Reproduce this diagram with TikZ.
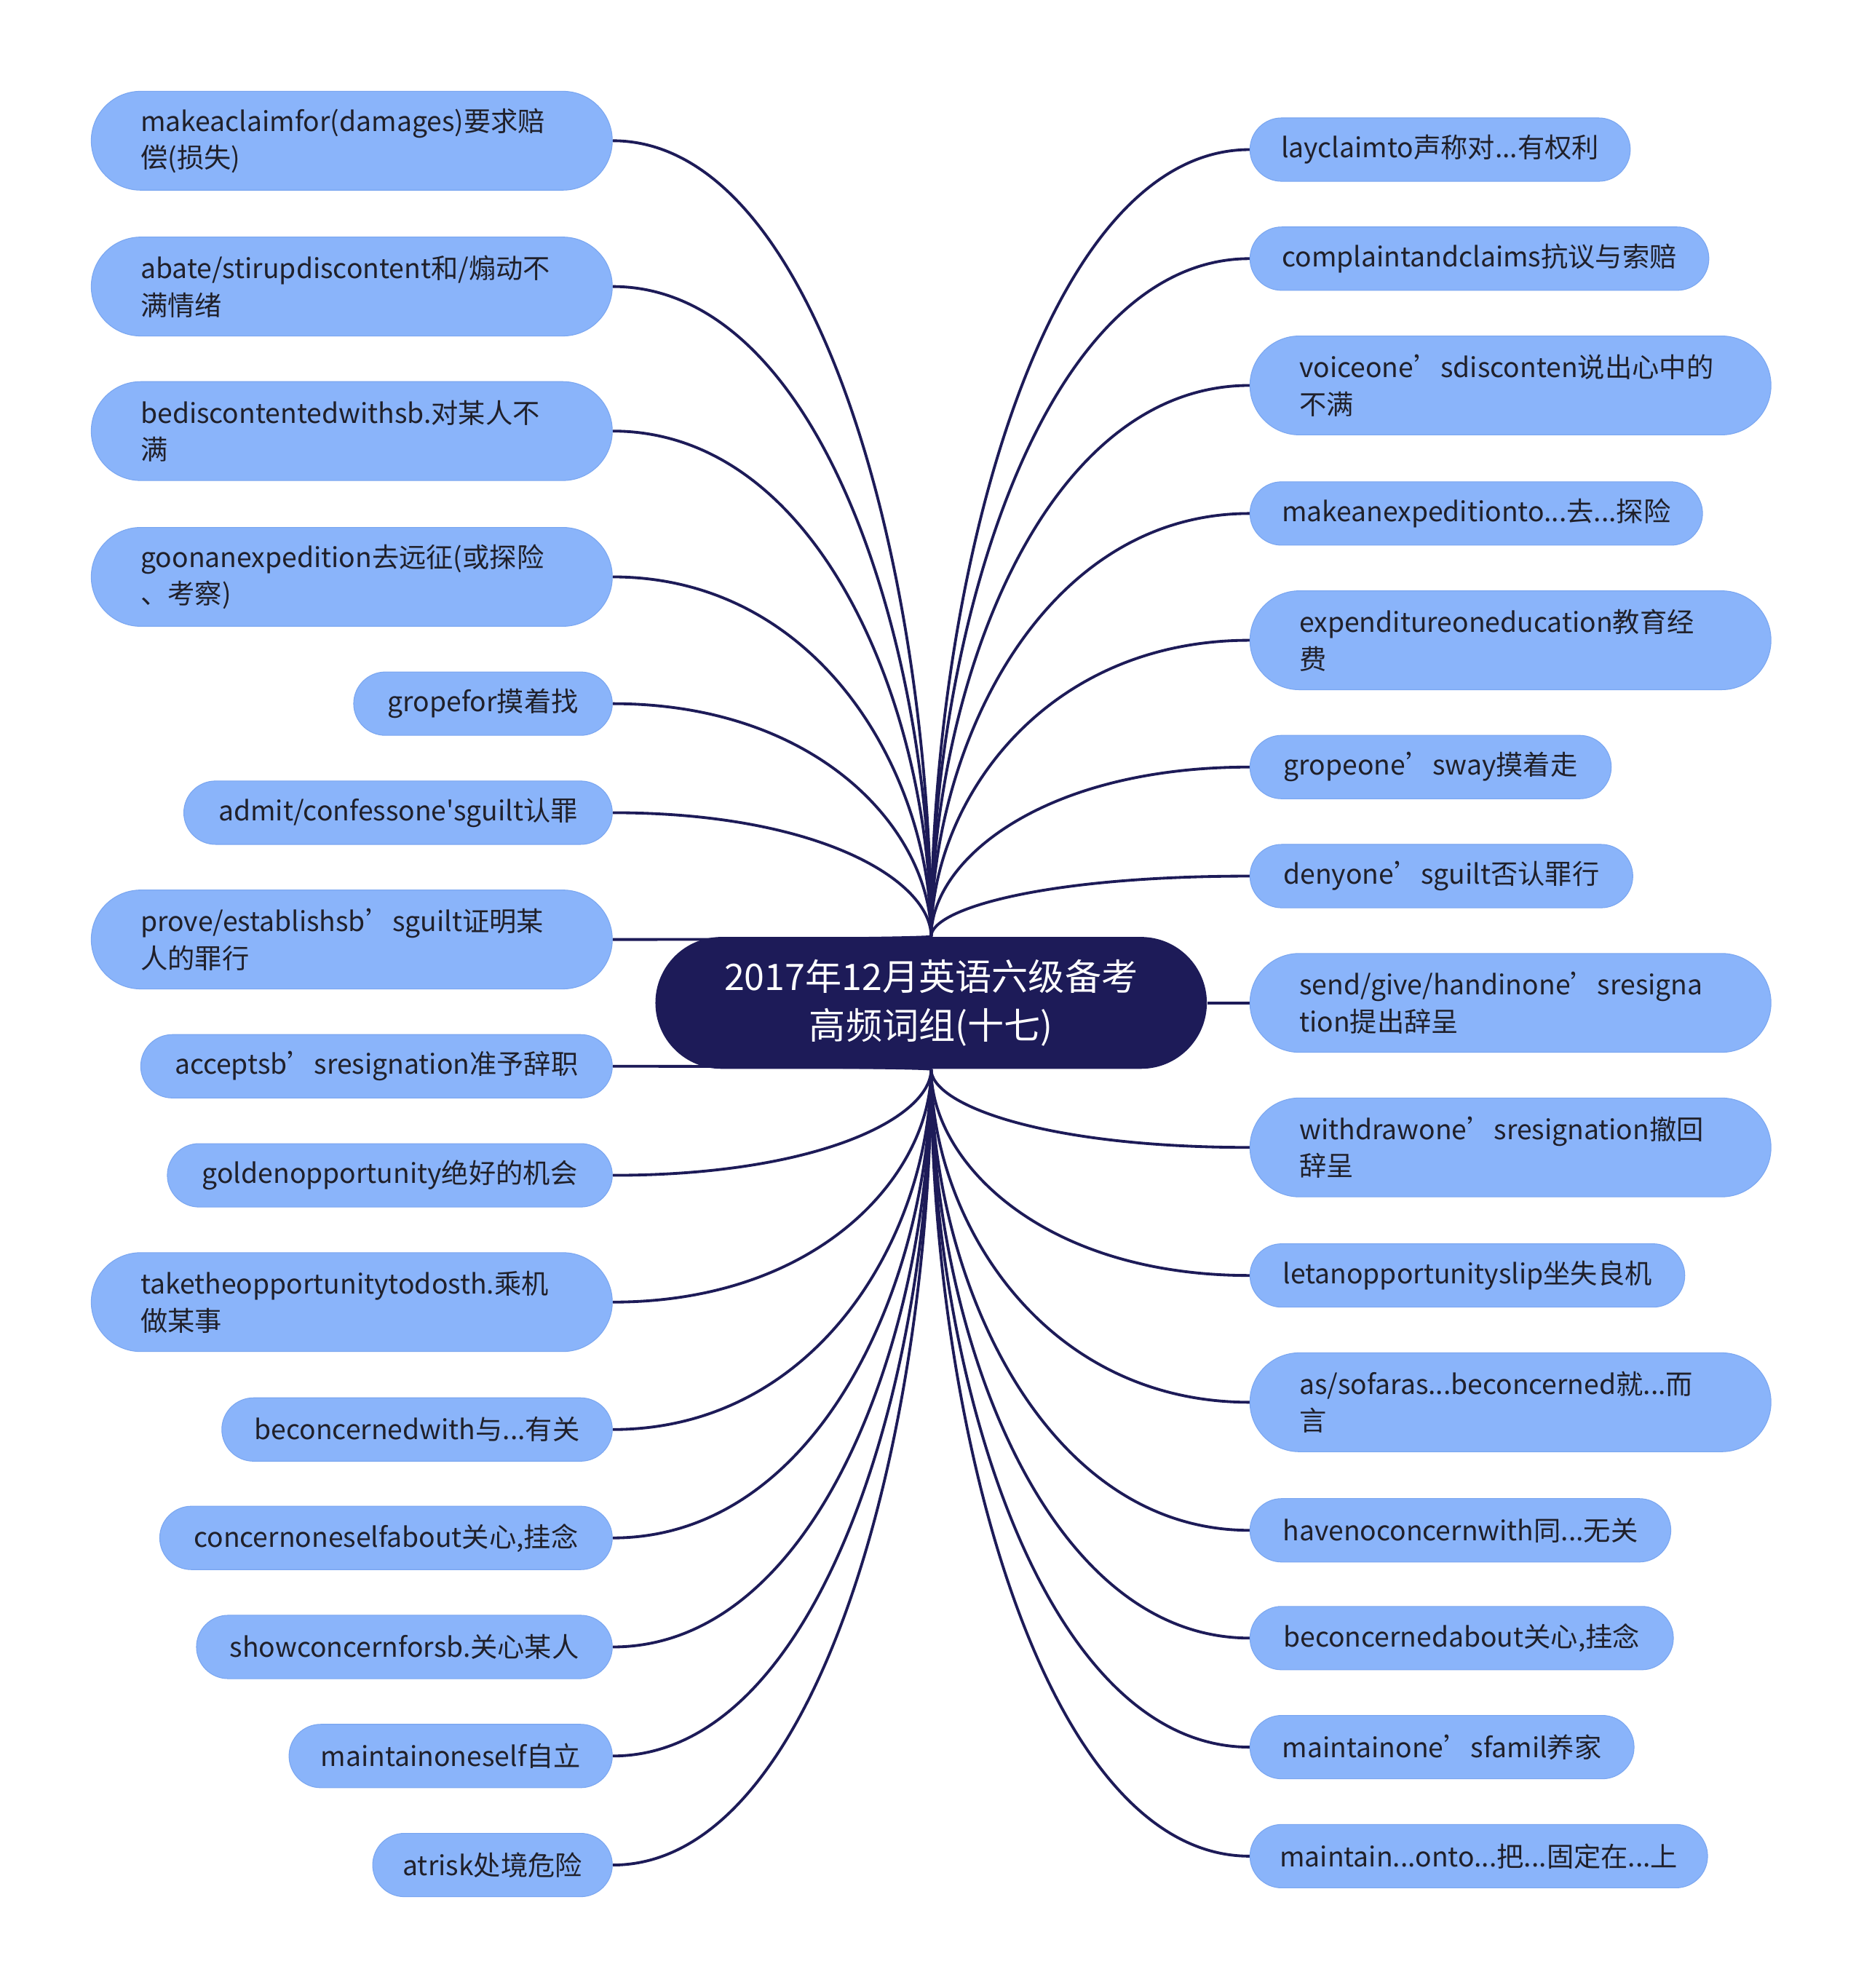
\documentclass[tikz,border=0pt]{standalone}
\usepackage{fontspec}
\newfontfamily\cjk{Noto Sans CJK SC}
\usetikzlibrary{calc,backgrounds}
\definecolor{leaffill}{RGB}{138,180,250}
\definecolor{leafedge}{RGB}{122,166,240}
\definecolor{navy}{RGB}{29,27,88}
\definecolor{txt}{RGB}{32,32,42}
\hyphenpenalty=10000 \exhyphenpenalty=10000
\newcommand\linkUL[1]{\draw[link] (#1.east) .. controls ($(#1.east)!0.65!(ctr.north |- #1.east)$) and ($(ctr.north)!0.45!(ctr.north |- #1.east)$) .. (ctr.north);}
\newcommand\linkDL[1]{\draw[link] (#1.east) .. controls ($(#1.east)!0.65!(ctr.south |- #1.east)$) and ($(ctr.south)!0.45!(ctr.south |- #1.east)$) .. (ctr.south);}
\newcommand\linkUR[1]{\draw[link] (#1.west) .. controls ($(#1.west)!0.65!(ctr.north |- #1.west)$) and ($(ctr.north)!0.45!(ctr.north |- #1.west)$) .. (ctr.north);}
\newcommand\linkDR[1]{\draw[link] (#1.west) .. controls ($(#1.west)!0.65!(ctr.south |- #1.west)$) and ($(ctr.south)!0.45!(ctr.south |- #1.west)$) .. (ctr.south);}
\begin{document}
\begin{tikzpicture}[x=0.5pt,y=-0.5pt,
  leaf/.style={shape=rectangle, fill=leaffill, draw=leafedge, line width=0.3pt, text=txt,
    font=\cjk\fontsize{10.7}{14.5}\selectfont, inner xsep=0pt, inner ysep=0pt, align=center},
  one/.style={leaf, minimum height=25pt, rounded corners=12.5pt},
  two/.style={leaf, minimum height=39pt, minimum width=205.5pt, rounded corners=19.5pt,
    text width=166.5pt, align=left},
  hubnode/.style={fill=navy, text=white, minimum width=217.5pt, minimum height=52pt,
    rounded corners=26pt, font=\cjk\fontsize{14.4}{19}\selectfont, align=center, inner sep=0pt},
  link/.style={draw=navy, line width=1.1pt}
]
\useasboundingbox (0,0) rectangle (1470,1568);

\node[hubnode] (ctr) at (734.5,791) {2017年12月英语六级备考\\高频词组(十七)};

% left
\node[two] (L1) at (277.5,111) {makeaclaimfor(damages)要求赔\\偿(损失)};
\node[two] (L2) at (277.5,226) {abate/stirupdiscontent和/煽动不\\满情绪};
\node[two] (L3) at (277.5,340) {bediscontentedwithsb.对某人不\\满};
\node[two] (L4) at (277.5,455) {goonanexpedition去远征(或探险\\、考察)};
\node[one, minimum width=102pt] (L5) at (381,555) {gropefor摸着找};
\node[one, minimum width=169pt] (L6) at (314,641) {admit/confessone'sguilt认罪};
\node[two] (L7) at (277.5,741) {prove/establishsb’sguilt证明某\\人的罪行};
\node[one, minimum width=186pt] (L8) at (297,841) {acceptsb’sresignation准予辞职};
\node[one, minimum width=175.5pt] (L9) at (307.5,927) {goldenopportunity绝好的机会};
\node[two] (L10) at (277.5,1027) {taketheopportunitytodosth.乘机\\做某事};
\node[one, minimum width=154pt] (L11) at (329,1127.5) {beconcernedwith与...有关};
\node[one, minimum width=178.5pt] (L12) at (304.5,1213) {concernoneselfabout关心,挂念};
\node[one, minimum width=164pt] (L13) at (319,1299) {showconcernforsb.关心某人};
\node[one, minimum width=127.5pt] (L14) at (355.5,1385) {maintainoneself自立};
\node[one, minimum width=94.5pt] (L15) at (388.5,1471) {atrisk处境危险};

% right
\node[one, minimum width=150pt] (R1) at (1136,118) {layclaimto声称对...有权利};
\node[one, minimum width=181pt] (R2) at (1167,204) {complaintandclaims抗议与索赔};
\node[two] (R3) at (1191.5,304) {voiceone’sdisconten说出心中的\\不满};
\node[one, minimum width=178.5pt] (R4) at (1164.5,405) {makeanexpeditionto...去...探险};
\node[two] (R5) at (1191.5,505) {expenditureoneducation教育经\\费};
\node[one, minimum width=142.5pt] (R6) at (1128.5,605) {gropeone’sway摸着走};
\node[one, minimum width=151pt] (R7) at (1137,691) {denyone’sguilt否认罪行};
\node[two] (R8) at (1191.5,791) {send/give/handinone’sresigna\\tion提出辞呈};
\node[two] (R9) at (1191.5,905) {withdrawone’sresignation撤回\\辞呈};
\node[one, minimum width=171.5pt] (R10) at (1157.5,1006) {letanopportunityslip坐失良机};
\node[two] (R11) at (1191.5,1106) {as/sofaras...beconcerned就...而\\言};
\node[one, minimum width=166pt] (R12) at (1152,1207) {havenoconcernwith同...无关};
\node[one, minimum width=167pt] (R13) at (1153,1292) {beconcernedabout关心,挂念};
\node[one, minimum width=151.5pt] (R14) at (1137.5,1378) {maintainone’sfamil养家};
\node[one, minimum width=180.5pt] (R15) at (1166.5,1464) {maintain...onto...把...固定在...上};

\begin{scope}[on background layer]
\fill[white] (0,0) rectangle (1470,1568);
\linkUL{L1}\linkUL{L2}\linkUL{L3}\linkUL{L4}\linkUL{L5}\linkUL{L6}\linkUL{L7}
\linkDL{L8}\linkDL{L9}\linkDL{L10}\linkDL{L11}\linkDL{L12}\linkDL{L13}\linkDL{L14}\linkDL{L15}
\linkUR{R1}\linkUR{R2}\linkUR{R3}\linkUR{R4}\linkUR{R5}\linkUR{R6}\linkUR{R7}
\draw[link] (R8.west) -- (ctr.east);
\linkDR{R9}\linkDR{R10}\linkDR{R11}\linkDR{R12}\linkDR{R13}\linkDR{R14}\linkDR{R15}
\end{scope}
\end{tikzpicture}
\end{document}
